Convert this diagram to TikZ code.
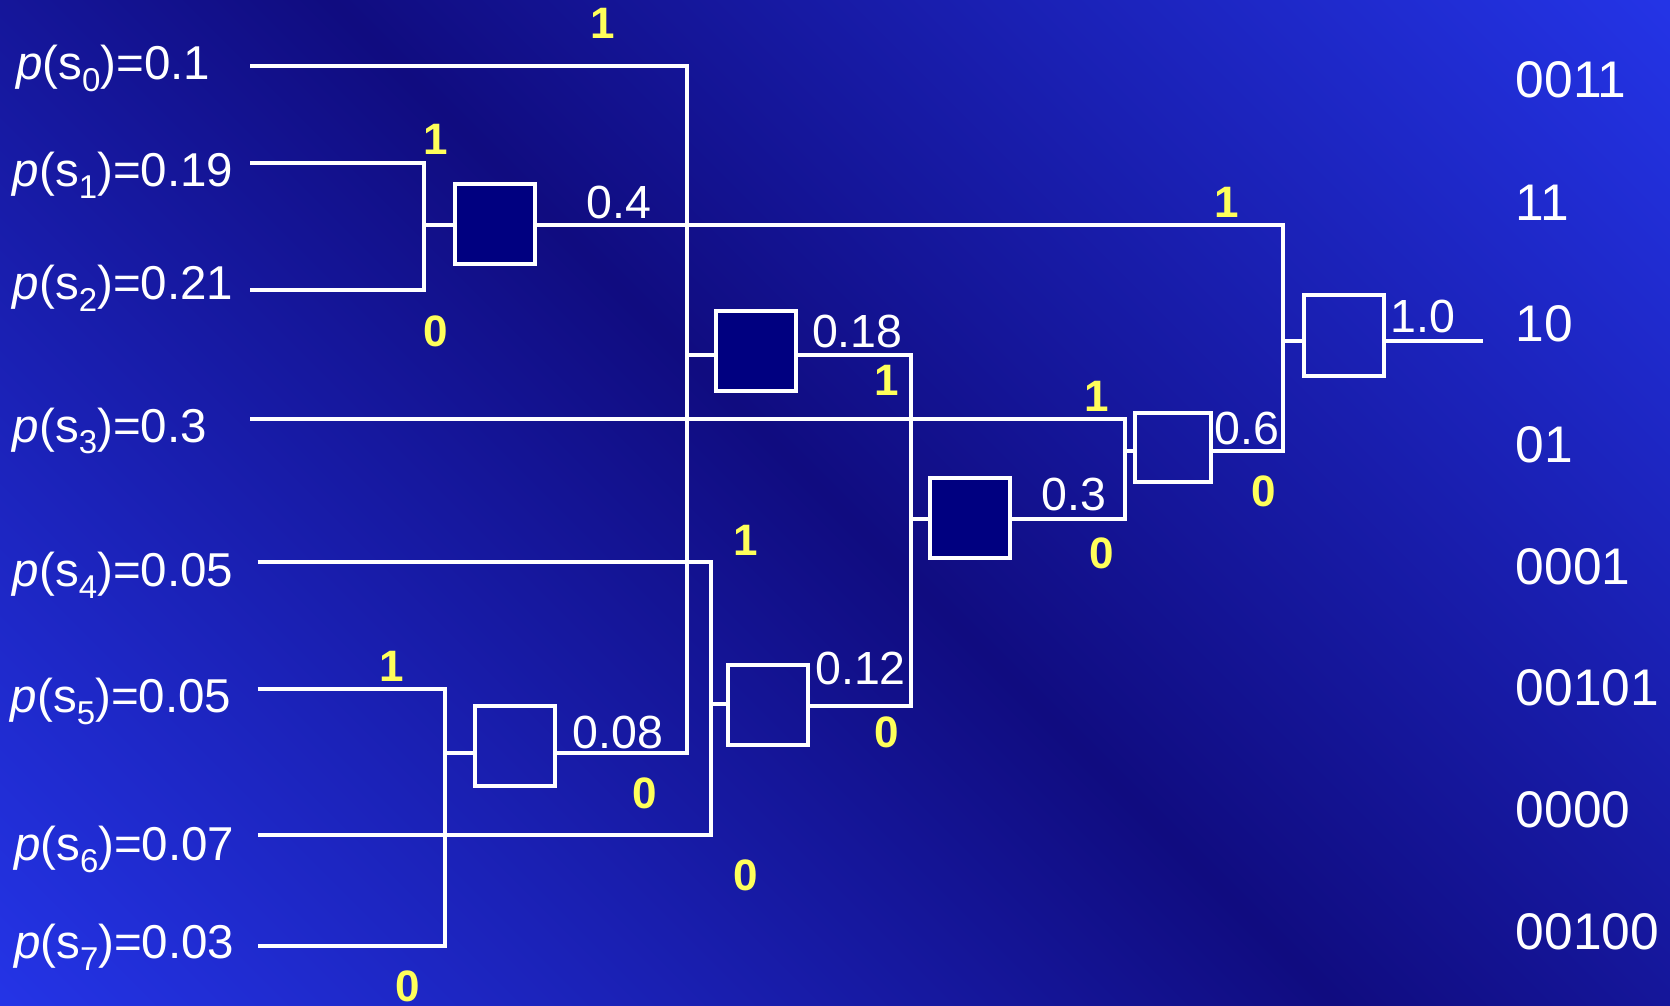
\documentclass[tikz,border=0pt]{standalone}
\usepackage{fontspec}
\setmainfont{Liberation Sans}
\definecolor{bgbright}{RGB}{36,52,230}
\definecolor{bgdark}{RGB}{16,12,128}
\definecolor{boxfill}{RGB}{0,0,128}
\definecolor{bitcol}{RGB}{255,255,90}
% diagonal background: bright corners bottom-left / top-right, dark band between
\pgfdeclareverticalshading{bgshade}{100bp}{color(0bp)=(bgbright); color(14.6bp)=(bgbright); color(50bp)=(bgdark); color(85.4bp)=(bgbright); color(100bp)=(bgbright)}
\newcommand\psub[1]{\raisebox{-0.25em}{\fontsize{33}{33}\selectfont #1}}
\newcommand\prob[2]{\textit{p}(s\psub{#1})=#2}
\tikzset{
  wire/.style={draw=white, line width=4pt},
  sumbox/.style={draw=white, line width=4pt, minimum width=80pt, minimum height=80pt, inner sep=0pt},
  darkbox/.style={sumbox, fill=boxfill},
  problbl/.style={text=white, font=\fontsize{47.5}{52}\selectfont, anchor=base west, inner sep=0pt},
  bit/.style={text=bitcol, font=\bfseries\fontsize{44}{48}\selectfont, inner sep=0pt},
  val/.style={text=white, font=\fontsize{46.5}{50}\selectfont, inner sep=0pt},
  code/.style={text=white, font=\fontsize{51.5}{55}\selectfont, anchor=west, inner sep=0pt},
}
\begin{document}
\begin{tikzpicture}[x=1.065pt, y=-1.065pt]
\useasboundingbox (0,0) rectangle (1568,944);
\shade[shading=bgshade, shading angle=-45] (0,0) rectangle (1568,944);

% symbol probabilities
\node[problbl] (p0) at (15,75)  {\prob{0}{0.1}};
\node[problbl] (p1) at (12,175) {\prob{1}{0.19}};
\node[problbl] (p2) at (12,281) {\prob{2}{0.21}};
\node[problbl] (p3) at (12,415) {\prob{3}{0.3}};
\node[problbl] (p4) at (12,551) {\prob{4}{0.05}};
\node[problbl] (p5) at (10,669) {\prob{5}{0.05}};
\node[problbl] (p6) at (13,808) {\prob{6}{0.07}};
\node[problbl] (p7) at (13,900) {\prob{7}{0.03}};

% leaf line starts
\coordinate (l0) at (235,62);
\coordinate (l1) at (235,153);
\coordinate (l2) at (235,272);
\coordinate (l3) at (235,393);
\coordinate (l4) at (242,528);
\coordinate (l5) at (242,647);
\coordinate (l6) at (242,784);
\coordinate (l7) at (242,888);

% merge points
\coordinate (m12) at (398,211);
\coordinate (mE)  at (418,707);
\coordinate (mB)  at (645,333);
\coordinate (mF)  at (668,661);
\coordinate (mC)  at (855,487);
\coordinate (mD)  at (1056,423);
\coordinate (mG)  at (1205,320);
\coordinate (out) at (1392,320);

% adder boxes
\node[darkbox] (A) at (465,210) {};
\node[darkbox] (B) at (709.5,330) {};
\node[darkbox] (C) at (910.5,486) {};
\node[sumbox, minimum width=76pt, minimum height=69pt] (D) at (1101.5,420) {};
\node[sumbox] (E) at (483.5,700) {};
\node[sumbox] (F) at (721,662) {};
\node[sumbox] (G) at (1262,315) {};

% connectors
\draw[wire] (l1) -| (m12) |- (l2);
\draw[wire] (m12) -- (m12 -| A.west);
\draw[wire] (l5) -| (mE) |- (l7);
\draw[wire] (mE) -- (E.west |- mE);
\draw[wire] (l0) -| (mB) |- (E.east |- mE);
\draw[wire] (mB) -- (mB -| B.west);
\draw[wire] (l4) -| (mF) |- (l6);
\draw[wire] (mF) -- (mF -| F.west);
\draw[wire] (B.east |- mB) -| (mC) |- (F.east |- 0,663);
\draw[wire] (mC) -- (mC -| C.west);
\draw[wire] (l3) -| (mD) |- (C.east |- mC);
\draw[wire] (mD) -- (mD -| D.west);
\draw[wire] (A.east |- m12) -| (mG) |- (D.east |- mD);
\draw[wire] (mG) -- (mG -| G.west);
\draw[wire] (G.east |- mG) -- (out);

% partial sums
\node[val] (v04) at (581,190) {0.4};
\node[val] (v018) at (805,311) {0.18};
\node[val] (v012) at (808,628) {0.12};
\node[val] (v008) at (580,688) {0.08};
\node[val] (v03) at (1008,464) {0.3};
\node[val] (v06) at (1171,402) {0.6};
\node[val] (v10) at (1336,297) {1.0};

% branch bits
\node[bit] (b0)  at (566,22)   {1};
\node[bit] (b1)  at (409,131)  {1};
\node[bit] (b2)  at (409,311)  {0};
\node[bit] (bA)  at (1152,190) {1};
\node[bit] (bB)  at (833,357)  {1};
\node[bit] (b3)  at (1030,372) {1};
\node[bit] (bC)  at (1034,520) {0};
\node[bit] (bD)  at (1187,461) {0};
\node[bit] (b4)  at (700,507)  {1};
\node[bit] (b6)  at (700,822)  {0};
\node[bit] (bF)  at (833,688)  {0};
\node[bit] (b5)  at (368,626)  {1};
\node[bit] (bE)  at (605,745)  {0};
\node[bit] (b7)  at (383,926)  {0};

% resulting code words
\node[code] (c0) at (1423,75)  {0011};
\node[code] (c1) at (1423,190) {11};
\node[code] (c2) at (1423,304) {10};
\node[code] (c3) at (1423,418) {01};
\node[code] (c4) at (1423,532) {0001};
\node[code] (c5) at (1423,646) {00101};
\node[code] (c6) at (1423,760) {0000};
\node[code] (c7) at (1423,875) {00100};
\end{tikzpicture}
\end{document}
